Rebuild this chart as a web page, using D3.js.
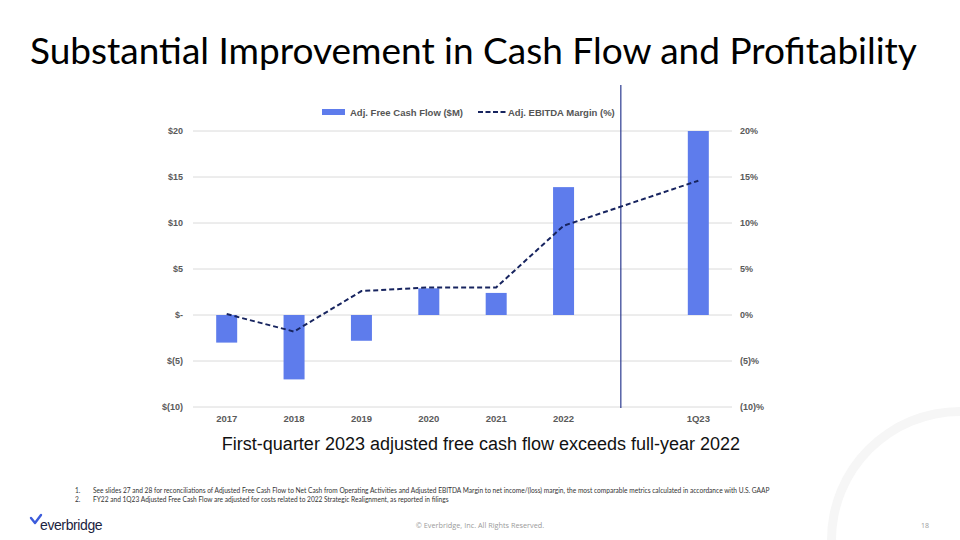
<html>
<script src="https://d3js.org/d3.v7.min.js"></script>
<body style="margin:0;background:#fff">
<svg id="chart" width="960" height="540"></svg>
<script>
// chart values
var periods = ["2017", "2018", "2019", "2020", "2021", "2022", "", "1Q23"];
var cashFlow = [-3.0, -7.0, -2.8, 2.9, 2.4, 13.9, null, 20.0];
var ebitdaMargin = [0.1, -1.8, 2.6, 3.0, 3.0, 9.7, null, 14.6];
var leftTicks = [-10, -5, 0, 5, 10, 15, 20];
var leftLabels = ["$(10)", "$(5)", "$-", "$5", "$10", "$15", "$20"];
var rightLabels = ["(10)%", "(5)%", "0%", "5%", "10%", "15%", "20%"];
var footnotes = [
    "See slides 27 and 28 for reconciliations of Adjusted Free Cash Flow to Net Cash from Operating Activities and Adjusted EBITDA Margin to net income/(loss) margin, the most comparable metrics calculated in accordance with U.S. GAAP",
    "FY22 and 1Q23 Adjusted Free Cash Flow are adjusted for costs related to 2022 Strategic Realignment, as reported in filings"
];

var svg = d3.select("#chart");
var barColor = "#5e7cec";
var lineColor = "#17245f";
var axisFont = "'Liberation Sans', Arial, sans-serif";

// background arc, bottom right
svg.append("path")
    .attr("d", d3.arc()({innerRadius: 124, outerRadius: 133, startAngle: -Math.PI / 2, endAngle: 0}))
    .attr("transform", "translate(960,540)")
    .attr("fill", "#f6f6f6");

svg.append("text")
    .attr("x", 30).attr("y", 64)
    .style("font-family", "Lato, 'Open Sans', sans-serif")
    .style("font-size", "37px")
    .attr("fill", "#000")
    .text("Substantial Improvement in Cash Flow and Profitability");

var x = d3.scaleBand().domain(d3.range(periods.length)).range([193, 732]);
var y = d3.scaleLinear().domain([-10, 20]).range([407, 131]);
var yr = d3.scaleLinear().domain([-10, 20]).range([407, 131]);

// gridlines
svg.append("g").selectAll("line").data(leftTicks).join("line")
    .attr("x1", 193).attr("x2", 732)
    .attr("y1", function(d) { return y(d); }).attr("y2", function(d) { return y(d); })
    .attr("stroke", "#dadada").attr("stroke-width", 1);

// left axis
var leftAxis = svg.append("g")
    .attr("transform", "translate(187,0)")
    .call(d3.axisLeft(y).tickValues(leftTicks).tickSize(0).tickPadding(4)
        .tickFormat(function(d, i) { return leftLabels[i]; }));
leftAxis.select(".domain").remove();
leftAxis.selectAll("text")
    .style("font-family", axisFont).style("font-size", "9px").style("font-weight", "bold")
    .attr("fill", "#5a5a5a");

// right axis
var rightAxis = svg.append("g")
    .attr("transform", "translate(736,0)")
    .call(d3.axisRight(yr).tickValues(leftTicks).tickSize(0).tickPadding(4)
        .tickFormat(function(d, i) { return rightLabels[i]; }));
rightAxis.select(".domain").remove();
rightAxis.selectAll("text")
    .style("font-family", axisFont).style("font-size", "9px").style("font-weight", "bold")
    .attr("fill", "#5a5a5a");

// bottom axis
var bottomAxis = svg.append("g")
    .attr("transform", "translate(0,410)")
    .call(d3.axisBottom(x).tickSize(0).tickPadding(5)
        .tickFormat(function(d) { return periods[d]; }));
bottomAxis.select(".domain").remove();
bottomAxis.selectAll("text")
    .style("font-family", axisFont).style("font-size", "9.5px").style("font-weight", "bold")
    .attr("fill", "#5a5a5a");

// bars
var bw = 21;
svg.append("g").selectAll("rect")
    .data(cashFlow.map(function(v, i) { return {v: v, i: i}; }).filter(function(d) { return d.v !== null; }))
    .join("rect")
    .attr("x", function(d) { return x(d.i) + x.bandwidth() / 2 - bw / 2; })
    .attr("width", bw)
    .attr("y", function(d) { return y(Math.max(0, d.v)); })
    .attr("height", function(d) { return Math.abs(y(d.v) - y(0)); })
    .attr("fill", barColor);

// divider between 2022 and 1Q23
var divX = x(6) + x.bandwidth() * 0.35;
svg.append("line")
    .attr("x1", divX).attr("x2", divX).attr("y1", 85).attr("y2", 408)
    .attr("stroke", "#2b3a8f").attr("stroke-width", 1.2);

// dashed margin line
var pts = ebitdaMargin.map(function(v, i) { return {v: v, i: i}; }).filter(function(d) { return d.v !== null; });
svg.append("path")
    .datum(pts)
    .attr("d", d3.line()
        .x(function(d) { return x(d.i) + x.bandwidth() / 2; })
        .y(function(d) { return yr(d.v); }))
    .attr("fill", "none")
    .attr("stroke", lineColor)
    .attr("stroke-width", 2)
    .attr("stroke-dasharray", "5,3");

// legend
var legend = svg.append("g").style("font-family", axisFont).style("font-size", "9.5px").style("font-weight", "bold");
legend.append("rect").attr("x", 322).attr("y", 109).attr("width", 23).attr("height", 6).attr("fill", barColor);
legend.append("text").attr("x", 350).attr("y", 115.5).attr("fill", "#555").text("Adj. Free Cash Flow ($M)");
legend.append("line").attr("x1", 478).attr("x2", 506).attr("y1", 112).attr("y2", 112)
    .attr("stroke", lineColor).attr("stroke-width", 2).attr("stroke-dasharray", "5,2.5");
legend.append("text").attr("x", 508).attr("y", 115.5).attr("fill", "#555").text("Adj. EBITDA Margin (%)");

// subtitle
svg.append("text")
    .attr("x", 481).attr("y", 450).attr("text-anchor", "middle")
    .style("font-family", axisFont).style("font-size", "18px")
    .attr("fill", "#111")
    .text("First-quarter 2023 adjusted free cash flow exceeds full-year 2022");

// footnotes
var fn = svg.append("g").style("font-family", "Lato, sans-serif").style("font-size", "6.6px").attr("fill", "#333");
footnotes.forEach(function(t, i) {
    fn.append("text").attr("x", 75).attr("y", 493 + i * 8.5).text((i + 1) + ".");
    fn.append("text").attr("x", 93).attr("y", 493 + i * 8.5).text(t);
});

// footer
svg.append("text")
    .attr("x", 480).attr("y", 528).attr("text-anchor", "middle")
    .style("font-family", "'Open Sans', sans-serif").style("font-size", "7.3px")
    .attr("fill", "#9a9a9a")
    .text("\u00A9 Everbridge, Inc. All Rights Reserved.");
svg.append("text")
    .attr("x", 925).attr("y", 528).attr("text-anchor", "middle")
    .style("font-family", "'Open Sans', sans-serif").style("font-size", "7px")
    .attr("fill", "#9a9a9a")
    .text("18");

// logo
svg.append("path")
    .attr("d", "M31,518 L35,523 L41,515")
    .attr("fill", "none").attr("stroke", "#3b5bdb").attr("stroke-width", 2.4)
    .attr("stroke-linecap", "round").attr("stroke-linejoin", "round");
svg.append("text")
    .attr("x", 40).attr("y", 530)
    .style("font-family", "'Liberation Sans', Arial, sans-serif").style("font-size", "14px")
    .style("letter-spacing", "-0.4px")
    .attr("fill", "#1b2340")
    .text("everbridge");
</script>
</body>
</html>
